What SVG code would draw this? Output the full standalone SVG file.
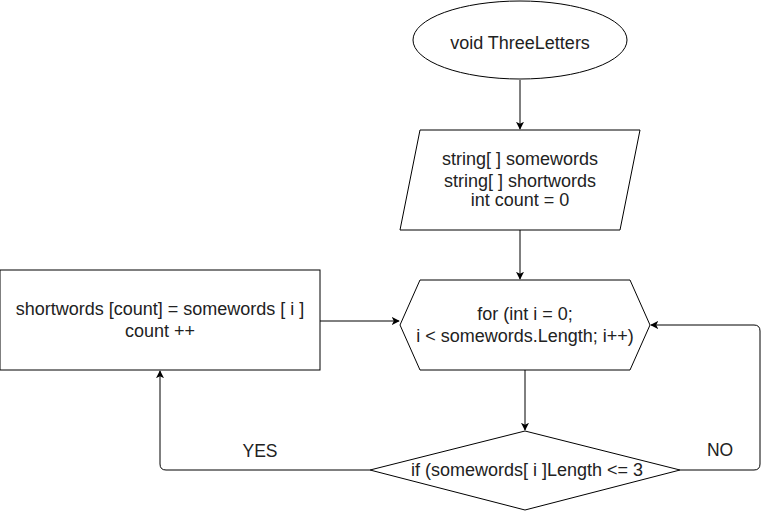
<svg xmlns="http://www.w3.org/2000/svg" width="769" height="512" viewBox="0 0 769 512">
<defs>
<style>
.s{fill:#fff;stroke:#000;stroke-width:1}
.t{font-family:"Liberation Sans",Arial,sans-serif;font-size:18px;fill:#222;text-anchor:middle}
.l{font-family:"Liberation Sans",Arial,sans-serif;font-size:17.5px;fill:#222;text-anchor:middle}
.c{fill:none;stroke:#000;stroke-width:1}
</style>
<marker id="a" viewBox="0 0 10 10" refX="9" refY="5" markerWidth="8" markerHeight="8" markerUnits="userSpaceOnUse" orient="auto">
<path d="M0,0 L10,5 L0,10 L2.5,5 Z" fill="#000"/>
</marker>
</defs>
<rect width="769" height="512" fill="#fff"/>
<g id="start">
<ellipse class="s" cx="520" cy="40" rx="107" ry="39"/>
<text class="t" x="520" y="49">void ThreeLetters</text>
</g>
<g id="decl">
<polygon class="s" points="420,130 640,130 620,230 400,230"/>
<text class="t" x="520" y="165">string[ ] somewords</text>
<text class="t" x="520" y="187">string[ ] shortwords</text>
<text class="t" x="520" y="206">int count = 0</text>
</g>
<g id="loop">
<polygon class="s" points="420,280 630,280 650,325 630,370 420,370 400,325"/>
<text class="t" x="525" y="320">for (int i = 0;</text>
<text class="t" x="525" y="342">i &lt; somewords.Length; i++)</text>
</g>
<g id="assign">
<rect class="s" x="0" y="270" width="320" height="100"/>
<text class="t" x="160" y="315">shortwords [count] = somewords [ i ]</text>
<text class="t" x="160" y="337">count ++</text>
</g>
<g id="cond">
<polygon class="s" points="525,431 680,470 525,510 370,470"/>
<text class="t" x="527" y="476">if (somewords[ i ]Length &lt;= 3</text>
</g>
<g id="connectors">
<path class="c" d="M520,80 V129" marker-end="url(#a)"/>
<path class="c" d="M520,230 V279" marker-end="url(#a)"/>
<path class="c" d="M525,370 V430" marker-end="url(#a)"/>
<path class="c" d="M320,321 H399" marker-end="url(#a)"/>
<path class="c" d="M680,470 H754 Q760,470 760,464 V331 Q760,325 754,325 H651" marker-end="url(#a)"/>
<path class="c" d="M370,470 H166 Q160,470 160,464 V371" marker-end="url(#a)"/>
<text class="l" x="260" y="457">YES</text>
<text class="l" x="720" y="456">NO</text>
</g>
</svg>
